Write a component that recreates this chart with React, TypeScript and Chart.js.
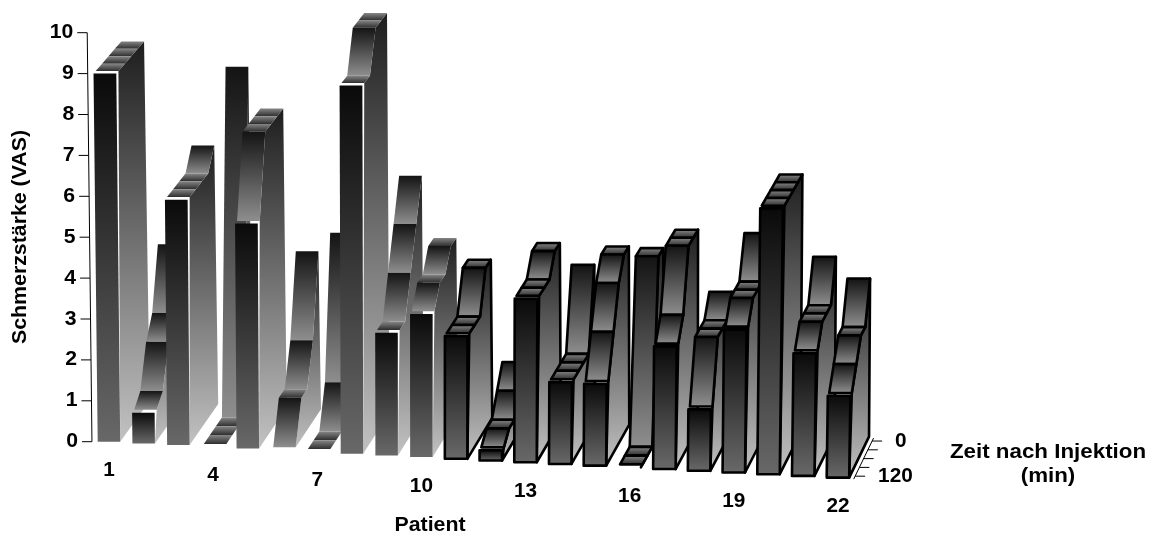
import { useEffect, useRef } from "react";
import { Chart, registerables } from "chart.js";

Chart.register(...registerables);

// Pain score per patient at each measuring time, front row (120 min) to back row (0 min).
const patients = Array.from({ length: 22 }, (_, i) => String(i + 1));
const timePoints = [120, 90, 60, 30, 0];
const at120 = [9, 0.75, 6, 0, 5.5, 0, 0, 9, 3, 3.5, 3, 0.25, 4, 2, 2, 0, 3, 1.5, 3.5, 6.5, 3, 2];
const at90 = [9, 1, 6, 0, 7.5, 1, 0, 9, 3, 4, 3, 0.5, 4, 2, 3, 0, 3.5, 3, 4, 6.5, 3.5, 2.5];
const at60 = [9, 2, 6, 0, 7.5, 1, 0, 10, 4, 4, 3, 0.5, 4, 2, 4, 0, 5, 3, 4, 6.5, 3.5, 3];
const at30 = [9, 2.5, 6, 0, 7.5, 2, 1, 10, 5, 4.5, 4, 1, 4.5, 2, 4.5, 4.5, 5, 3, 4, 6.5, 3.5, 3];
const at0 = [9, 4, 6.5, 8.5, 7.5, 4, 4.5, 10, 6, 4.5, 4, 1.5, 4.5, 4, 4.5, 4.5, 5, 3.5, 5, 6.5, 4.5, 4];
const series = [at120, at90, at60, at30, at0];

const valueTicks = [0, 1, 2, 3, 4, 5, 6, 7, 8, 9, 10];
const patientTicks = [1, 4, 7, 10, 13, 16, 19, 22];
const timeTicks = [120, 90, 60, 30, 0];
const timeTickLabels: Record<number, string> = { 120: "120", 0: "0" };

const FONT = '"Liberation Sans", Arial, sans-serif';
const BAR_WIDTH = 22.5;
const FIRST_OUTLINED = 10;

const RISER: Array<[number, string]> = [[0, "#141414"], [1, "#8e8e8e"]];
const TREAD: Array<[number, string]> = [[0, "#868686"], [1, "#2e2e2e"]];
const SIDE: Array<[number, string]> = [[0, "#1e1e1e"], [1, "#c2c2c2"]];
const FRONT: Array<[number, string]> = [[0, "#0a0a0a"], [1, "#686868"]];

type Ctx = CanvasRenderingContext2D;

// Text with a slight horizontal widening, as the axis lettering is set.
function label(ctx: Ctx, text: string, x: number, y: number, size: number, align: CanvasTextAlign, widen: number, rotate = 0) {
  ctx.save();
  ctx.translate(x, y);
  if (rotate) ctx.rotate(rotate);
  ctx.scale(widen, 1);
  ctx.font = `bold ${size}px ${FONT}`;
  ctx.textAlign = align;
  ctx.textBaseline = "middle";
  ctx.fillStyle = "#000";
  ctx.fillText(text, 0, 0);
  ctx.restore();
}

function face(ctx: Ctx, pts: number[][], stops: Array<[number, string]>, outlined: boolean) {
  const ys = pts.map((p) => p[1]);
  const g = ctx.createLinearGradient(0, Math.min(...ys), 0, Math.max(...ys));
  stops.forEach(([at, colour]) => g.addColorStop(at, colour));
  ctx.beginPath();
  pts.forEach((p, k) => (k ? ctx.lineTo(p[0], p[1]) : ctx.moveTo(p[0], p[1])));
  ctx.closePath();
  ctx.fillStyle = g;
  ctx.fill();
  if (outlined) {
    ctx.strokeStyle = "#000";
    ctx.lineWidth = 2.6;
    ctx.lineJoin = "round";
    ctx.stroke();
  }
}

const ribbons = {
  id: "ribbons",
  afterDatasetsDraw(chart: any) {
    const ctx: Ctx = chart.ctx;
    const xS = chart.scales.x;
    const yS = chart.scales.y;
    const tS = chart.scales.time;
    const depthOf = (t: number) => 1 - tS.getDecimalForPixel(tS.getPixelForValue(t));

    // Oblique projection: patient along x, score up, time into the page.
    const project = (i: number, side: number, depth: number, v: number) => {
      const base = xS.getPixelForValue(i) + (side * BAR_WIDTH) / 2 + depth * (29.5 - 0.46 * i);
      return [base + (base - 430) * 0.0014 * v, yS.getPixelForValue(v) + 1.71 * i - depth * (41 - 0.7 * v)];
    };

    ctx.save();
    patients.forEach((_, i) => {
      const values = chart.data.datasets.map((d: any) => d.data[i] as number);
      const depths = timePoints.map(depthOf);
      const outlined = i >= FIRST_OUTLINED;

      const profile = values.map((v: number, k: number) => project(i, 1, depths[k], v));
      face(ctx, [project(i, 1, 0, 0), ...profile, project(i, 1, 1, 0)], SIDE, outlined);

      for (let k = values.length - 2; k >= 0; k--) {
        face(
          ctx,
          [
            project(i, -1, depths[k], values[k]),
            project(i, 1, depths[k], values[k]),
            project(i, 1, depths[k + 1], values[k + 1]),
            project(i, -1, depths[k + 1], values[k + 1]),
          ],
          values[k] === values[k + 1] ? TREAD : RISER,
          outlined
        );
      }
      if (values[0] > 0) {
        face(
          ctx,
          [project(i, -1, 0, 0), project(i, 1, 0, 0), project(i, 1, 0, values[0]), project(i, -1, 0, values[0])],
          FRONT,
          outlined
        );
      }
    });

    // Score axis along the left edge.
    ctx.strokeStyle = "#000";
    ctx.lineWidth = 1;
    const axisX = (v: number) => xS.getPixelForValue(0) - 17 + (xS.getPixelForValue(0) - 17 - 430) * 0.0014 * v;
    ctx.beginPath();
    ctx.moveTo(axisX(0), yS.getPixelForValue(0));
    ctx.lineTo(axisX(10), yS.getPixelForValue(10));
    ctx.stroke();
    valueTicks.forEach((v) => {
      const y = yS.getPixelForValue(v);
      ctx.beginPath();
      ctx.moveTo(axisX(v), y);
      ctx.lineTo(axisX(v) - 10, y);
      ctx.stroke();
      label(ctx, String(v), axisX(v) - 14, y, 20, "right", 1.06);
    });

    // Time axis running into the page on the right.
    const last = patients.length - 1;
    const tx = (d: number) => project(last, 1, d, 0)[0] + 4.5;
    const ty = (d: number) => project(last, 1, d, 0)[1] + 1.5;
    ctx.beginPath();
    ctx.moveTo(tx(0), ty(0));
    ctx.lineTo(tx(1), ty(1));
    ctx.stroke();
    timeTicks.forEach((t) => {
      const d = depthOf(t);
      ctx.beginPath();
      ctx.moveTo(tx(d), ty(d));
      ctx.lineTo(tx(d) + 10, ty(d));
      ctx.stroke();
      if (timeTickLabels[t]) label(ctx, timeTickLabels[t], tx(d) + 23, ty(d), 20, "left", 1.04);
    });

    // Patient numbers follow the slope of the front edge.
    patientTicks.forEach((p) => {
      const i = p - 1;
      label(ctx, String(p), xS.getPixelForValue(i), yS.getPixelForValue(0) + 1.71 * i + 29, 20, "center", 1.04);
    });

    label(ctx, "Patient", 430, 525, 20.5, "center", 1.04);
    label(ctx, "Schmerzstärke (VAS)", 20, 237, 20.5, "center", 1.04, -Math.PI / 2);
    label(ctx, "Zeit nach Injektion", 1048, 452, 20.5, "center", 1.09);
    label(ctx, "(min)", 1048, 476, 20.5, "center", 1.09);
    ctx.restore();
  },
};

export default function App() {
  const ref = useRef<HTMLCanvasElement>(null);
  useEffect(() => {
    document.body.style.margin = "0";
    const chart = new Chart(ref.current!, {
      type: "bar",
      data: {
        labels: patients,
        datasets: series.map((data, k) => ({
          label: `${timePoints[k]} min`,
          data,
          backgroundColor: "transparent",
          borderWidth: 0,
        })),
      },
      options: {
        animation: false,
        responsive: false,
        layout: { padding: { left: 91.6, right: 301.7, top: 32.7, bottom: 93.3 } },
        plugins: { legend: { display: false }, tooltip: { enabled: false } },
        scales: {
          x: { type: "category", display: false, offset: true },
          y: { type: "linear", display: false, min: 0, max: 10 },
          time: { type: "linear", axis: "x", display: false, min: 0, max: 120 },
        },
      },
      plugins: [ribbons],
    } as any);
    return () => chart.destroy();
  }, []);
  return <canvas ref={ref} width={1157} height={535} style={{ display: "block" }} />;
}
